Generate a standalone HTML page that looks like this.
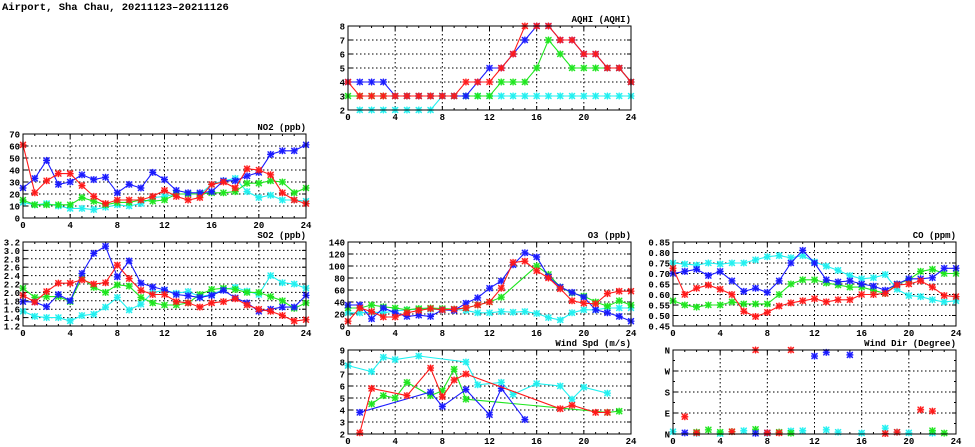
<!DOCTYPE html>
<html><head><meta charset="utf-8">
<style>
html,body{margin:0;padding:0;background:#fff;}
svg{display:block;font-family:"Liberation Mono",monospace;font-weight:bold;}
</style></head>
<body>
<svg id="chart" width="975" height="447" viewBox="0 0 975 447">
<text x="2" y="10" font-size="10.5">Airport, Sha Chau, 20211123–20211126</text>
</svg>
<script>
const hours = [0,1,2,3,4,5,6,7,8,9,10,11,12,13,14,15,16,17,18,19,20,21,22,23,24];
const xTicks = [0,4,8,12,16,20,24];
const N=null;
// AQHI
const aqhiBlue=[4,4,4,4,3,3,3,3,3,3,3,4,5,5,6,7,8,8,7,7,6,6,5,5,4];
const aqhiRed=[4,3,3,3,3,3,3,3,3,3,4,4,4,5,6,8,8,8,7,7,6,6,5,5,4];
const aqhiGreen=[3,3,3,3,3,3,3,3,3,3,3,3,3,4,4,4,5,7,6,5,5,5,5,5,4];
const aqhiCyan=[N,2,2,2,2,2,2,2,3,3,3,3,3,3,3,3,3,3,3,3,3,3,3,3,3];
const aqhiTicks=[2,3,4,5,6,7,8];
// NO2
const no2Blue=[25,33,48,28,30,36,32,34,21,28,25,38,32,23,21,21,22,31,31,35,38,53,56,56,61];
const no2Red=[61,21,31,37,37,27,18,12,15,15,15,18,23,18,15,17,28,30,25,41,40,36,21,15,12];
const no2Green=[15,11,11,11,11,17,14,11,13,13,15,14,15,20,20,20,21,21,22,29,29,31,30,21,25];
const no2Cyan=[13,11,12,10,8,8,7,9,11,10,12,17,18,20,20,20,28,31,33,22,17,19,15,15,14];
const no2Ticks=[0,10,20,30,40,50,60,70];
// SO2
const so2Blue=[1.78,1.77,1.66,1.95,1.8,2.45,2.93,3.1,2.37,2.75,2.22,2.13,2.06,1.95,1.92,1.88,1.93,2.05,1.87,1.75,1.55,1.6,1.65,1.65,1.93];
const so2Red=[1.93,1.77,2.02,2.22,2.22,2.3,2.2,2.23,2.65,2.33,2.05,1.95,1.95,1.78,1.75,1.65,1.75,1.78,1.85,1.7,1.6,1.55,1.45,1.32,1.35];
const so2Green=[2.1,1.88,1.9,1.9,1.78,2.35,2.12,2.0,2.18,2.15,1.88,1.75,1.7,1.7,1.75,1.95,2.07,2.1,2.07,2.0,2.0,1.9,1.8,1.62,1.75];
const so2Cyan=[1.55,1.43,1.4,1.4,1.32,1.45,1.48,1.65,1.88,1.58,1.72,2.0,2.05,1.98,2.02,1.9,1.95,2.07,2.12,2.03,1.95,2.4,2.23,2.2,2.1];
const so2Ticks=[1.2,1.4,1.6,1.8,2.0,2.2,2.4,2.6,2.8,3.0,3.2];
// O3
const o3Blue=[35,35,12,30,22,16,18,16,27,26,38,47,63,75,102,122,115,82,65,56,48,27,22,16,8];
const o3Red=[8,30,24,15,15,22,26,29,27,28,30,35,40,63,106,108,92,80,62,42,38,37,54,58,58];
const o3Green=[30,30,35,32,30,27,29,30,29,28,30,35,40,48,N,N,100,86,65,55,50,40,33,42,35];
const o3Cyan=[22,22,23,22,25,27,28,28,27,28,26,22,22,24,23,24,21,14,10,22,27,27,30,30,30];
const o3Ticks=[0,20,40,60,80,100,120,140];
// CO
const coBlue=[0.70,0.71,0.72,0.69,0.71,0.665,0.615,0.63,0.61,0.665,0.75,0.81,0.75,0.67,0.66,0.665,0.65,0.64,0.62,0.65,0.675,0.675,0.68,0.725,0.725];
const coRed=[0.725,0.60,0.63,0.645,0.625,0.60,0.52,0.495,0.515,0.545,0.56,0.57,0.58,0.565,0.575,0.575,0.60,0.60,0.605,0.645,0.65,0.665,0.635,0.595,0.59];
const coGreen=[0.57,0.55,0.54,0.55,0.55,0.565,0.555,0.555,0.555,0.60,0.65,0.67,0.67,0.655,0.645,0.635,0.635,0.62,0.605,0.65,0.67,0.71,0.72,0.70,0.70];
const coCyan=[0.75,0.745,0.74,0.75,0.745,0.75,0.75,0.765,0.78,0.785,0.775,0.785,0.755,0.735,0.715,0.69,0.675,0.68,0.695,0.625,0.595,0.59,0.575,0.565,0.57];
const coTicks=[0.45,0.50,0.55,0.60,0.65,0.70,0.75,0.80,0.85];
// Wind speed
const wsBlue=[N,3.8,N,N,N,N,N,5.5,4.3,N,5.7,N,3.6,5.8,N,3.2,N,N,N,N,N,N,N,N,N];
const wsRed=[N,2.1,5.8,N,N,5.2,N,7.5,5.1,6.5,7.0,N,N,N,N,N,N,N,4.1,4.4,N,3.8,3.8,N,N];
const wsGreen=[N,N,4.5,5.2,5.0,6.3,N,5.2,5.6,7.4,4.9,N,N,N,N,N,N,N,N,N,N,N,3.8,3.9,N];
const wsCyan=[7.7,N,7.2,8.4,8.2,N,8.5,N,N,N,8.0,6.1,N,6.3,5.3,N,6.2,N,6.0,4.9,5.9,N,5.4,N,N];
const wsTicks=[2,3,4,5,6,7,8,9];
// Wind direction (degrees)
const wdBlue=[N,5,N,N,N,N,N,3,5,N,N,N,334,350,N,339,N,N,N,N,N,N,N,N,N];
const wdRed=[N,74,5,N,N,10,N,360,5,5,360,N,N,N,N,N,N,N,2,8,N,104,98,N,N];
const wdGreen=[N,N,8,18,8,10,N,20,N,8,4,N,N,N,N,N,N,N,N,N,N,N,14,4,N];
const wdCyan=[10,N,3,N,2,N,14,N,3,N,13,14,N,18,8,N,4,N,25,8,5,N,4,N,N];
const wdTicks=[0,90,180,270,360];
const wdLabels=["N","E","S","W","N"];

const COLORS={blue:"#1a1aff",red:"#ff1a1a",green:"#1ee61e",cyan:"#20f0f0"};
const NS="http://www.w3.org/2000/svg";
const svg=document.getElementById('chart');
function mk(tag,attrs,parent){const e=document.createElementNS(NS,tag);for(const k in attrs)e.setAttribute(k,attrs[k]);(parent||svg).appendChild(e);return e;}

const panels=[
 {key:'aqhi',title:'AQHI (AQHI)',x0:348,x1:631,y0:26,y1:110,min:2,max:8,ticks:aqhiTicks,fmt:v=>String(v),series:[['cyan',aqhiCyan],['green',aqhiGreen],['blue',aqhiBlue],['red',aqhiRed]]},
 {key:'no2',title:'NO2 (ppb)',x0:23,x1:306,y0:134,y1:218,min:0,max:70,ticks:no2Ticks,fmt:v=>String(v),series:[['cyan',no2Cyan],['green',no2Green],['blue',no2Blue],['red',no2Red]]},
 {key:'so2',title:'SO2 (ppb)',x0:23,x1:306,y0:242,y1:326,min:1.2,max:3.2,ticks:so2Ticks,fmt:v=>v.toFixed(1),series:[['cyan',so2Cyan],['green',so2Green],['blue',so2Blue],['red',so2Red]]},
 {key:'o3',title:'O3 (ppb)',x0:348,x1:631,y0:242,y1:326,min:0,max:140,ticks:o3Ticks,fmt:v=>String(v),series:[['cyan',o3Cyan],['green',o3Green],['blue',o3Blue],['red',o3Red]]},
 {key:'co',title:'CO (ppm)',x0:673,x1:956,y0:242,y1:326,min:0.45,max:0.85,ticks:coTicks,fmt:v=>v.toFixed(2),series:[['cyan',coCyan],['green',coGreen],['blue',coBlue],['red',coRed]]},
 {key:'wind-speed',title:'Wind Spd (m/s)',x0:348,x1:631,y0:350,y1:434,min:2,max:9,ticks:wsTicks,fmt:v=>String(v),series:[['cyan',wsCyan],['green',wsGreen],['blue',wsBlue],['red',wsRed]]},
 {key:'wind-dir',title:'Wind Dir (Degree)',x0:673,x1:956,y0:350,y1:434,min:0,max:360,ticks:wdTicks,labels:wdLabels,scatter:true,series:[['cyan',wdCyan],['green',wdGreen],['blue',wdBlue],['red',wdRed]]}
];

function marker(g,x,y,color,name){
  const m=mk('g',{},g);
  
  
  mk('rect',{x:x-3,y:y-3,width:6,height:6,fill:color,'fill-opacity':0.35},m);
  mk('path',{d:`M${x-3},${y-3}L${x+3},${y+3}M${x-3},${y+3}L${x+3},${y-3}M${x-3.5},${y}L${x+3.5},${y}M${x},${y-3.5}L${x},${y+3.5}`,stroke:color,'stroke-width':1.2},m);
}

panels.forEach(p=>{
  const g=mk('g',{});
  
  
  const X=h=>p.x0+(h-0)/24*(p.x1-p.x0);
  const Y=v=>p.y1-(v-p.min)/(p.max-p.min)*(p.y1-p.y0);
  const cid='clip-'+p.key;
  const cp=mk('clipPath',{id:cid},g);mk('rect',{x:p.x0-4,y:p.y0-4,width:p.x1-p.x0+8,height:p.y1-p.y0+8},cp);
  // grid
  p.ticks.forEach((t,i)=>{
    const y=Y(t);
    if(i>0&&i<p.ticks.length-1){const l=mk('line',{x1:p.x0,x2:p.x1,y1:y,y2:y,stroke:'#000','stroke-width':1,'stroke-dasharray':'1.5,2.5'},g);
      }
    mk('line',{x1:p.x0,x2:p.x0+4,y1:y,y2:y,stroke:'#000'},g);
    mk('line',{x1:p.x1,x2:p.x1-4,y1:y,y2:y,stroke:'#000'},g);
    const lab=mk('text',{x:p.x0-3,y:y+3.5,'font-size':9,'text-anchor':'end'},g);
    lab.textContent=p.labels?p.labels[i]:p.fmt(t);
    
  });
  if(p.labels){[45,135,225,315].forEach(t=>{const y=Y(t);mk('line',{x1:p.x0,x2:p.x0+2,y1:y,y2:y,stroke:'#000'},g);mk('line',{x1:p.x1,x2:p.x1-2,y1:y,y2:y,stroke:'#000'},g);});}
  hours.forEach(h=>{const x=X(h);const len=h%4===0?4:2;
    mk('line',{x1:x,x2:x,y1:p.y1,y2:p.y1-len,stroke:'#000'},g);mk('line',{x1:x,x2:x,y1:p.y0,y2:p.y0+len,stroke:'#000'},g);});
  xTicks.forEach(t=>{const x=X(t);
    if(t>0&&t<24){const l=mk('line',{x1:x,x2:x,y1:p.y0,y2:p.y1,stroke:'#000','stroke-dasharray':'1.5,2.5'},g);
      }
    const lab=mk('text',{x:x,y:p.y1+10,'font-size':9,'text-anchor':'middle'},g);lab.textContent=String(t);
    
  });
  const tt=mk('text',{x:p.x1,y:p.y0-4,'font-size':9,'text-anchor':'end'},g);tt.textContent=p.title;
  
  // series
  const sg=mk('g',{'clip-path':`url(#${cid})`},g);
  p.series.forEach(([c,arr])=>{
    const col=COLORS[c];
    const pts=[];arr.forEach((v,i)=>{if(v!==null)pts.push([X(hours[i]),Y(v)]);});
    if(!p.scatter&&pts.length>1){
      const pl=mk('polyline',{points:pts.map(q=>q[0].toFixed(1)+','+q[1].toFixed(1)).join(' '),fill:'none',stroke:col,'stroke-width':1.1},sg);
      
    }
    pts.forEach(q=>marker(sg,q[0],q[1],col,p.key+'-'+c+'-point'));
  });
  const b=mk('rect',{x:p.x0,y:p.y0,width:p.x1-p.x0,height:p.y1-p.y0,fill:'none',stroke:'#000','stroke-width':1},g);
  
});
</script>
</body></html>
